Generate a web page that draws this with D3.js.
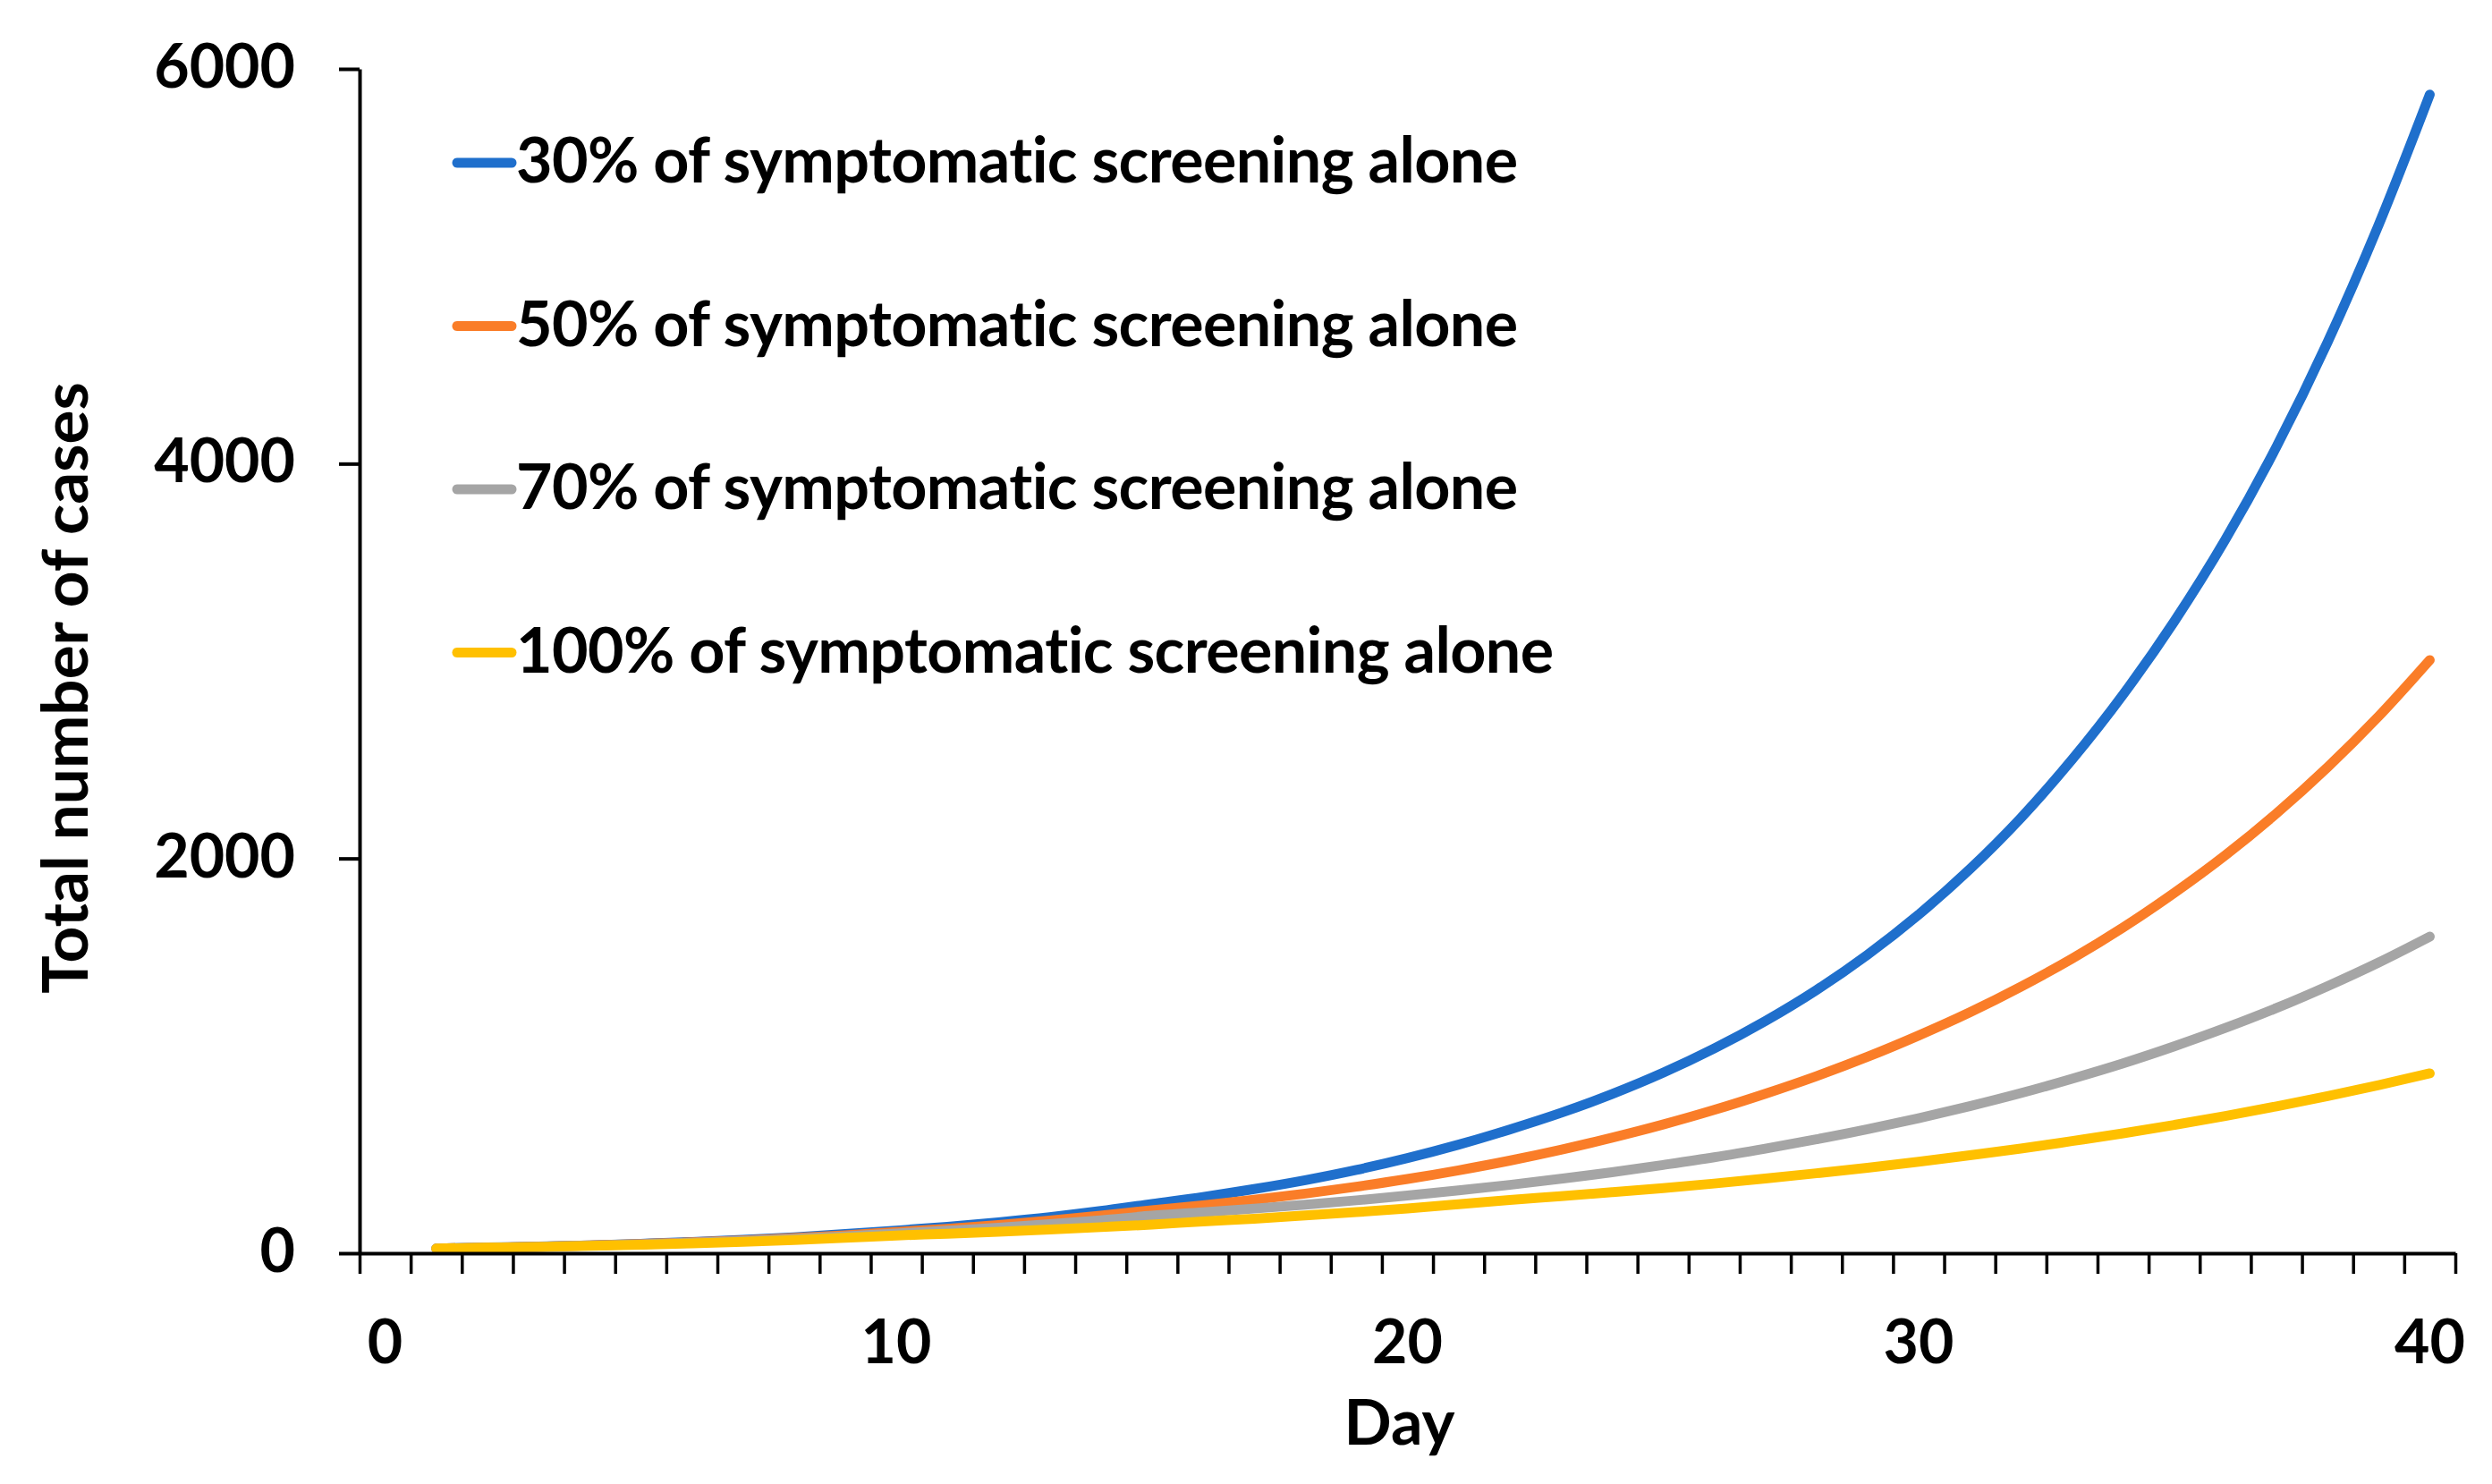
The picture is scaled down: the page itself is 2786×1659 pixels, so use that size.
<!DOCTYPE html>
<html>
<head>
<meta charset="utf-8">
<script src="https://cdn.jsdelivr.net/npm/d3@7"></script>
<style>
  body { margin: 0; background: #fff; }
  text { font-family: Lato, "Open Sans", sans-serif; font-weight: 700; fill: #000; }
</style>
</head>
<body>
<svg id="chart" width="2786" height="1659"></svg>
<script>
const days = d3.range(1, 41);
const xTickLabels = [0, 10, 20, 30, 40];
const yTickValues = [0, 2000, 4000, 6000];

const seriesNames = [
    "30% of symptomatic screening alone",
    "50% of symptomatic screening alone",
    "70% of symptomatic screening alone",
    "100% of symptomatic screening alone"
];
const seriesColours = ["#1F6FCC", "#FA7D28", "#A5A5A5", "#FFC000"];

const cases30 = [24, 29, 34, 40, 48, 57, 68, 81, 97, 115,
    134, 157, 183, 214, 250, 285, 325, 370, 422, 482,
    550, 627, 711, 806, 914, 1037, 1176, 1333, 1512, 1715,
    1945, 2205, 2500, 2830, 3200, 3615, 4085, 4615, 5210, 5870];
const cases50 = [24, 28, 33, 40, 47, 55, 65, 77, 91, 108,
    124, 143, 165, 190, 218, 243, 271, 302, 337, 376,
    420, 469, 524, 585, 652, 726, 808, 897, 995, 1103,
    1220, 1350, 1492, 1650, 1825, 2016, 2228, 2462, 2720, 3005];
const cases70 = [24, 28, 33, 39, 45, 53, 62, 73, 85, 100,
    114, 129, 147, 167, 190, 207, 226, 246, 268, 292,
    318, 346, 377, 410, 447, 486, 530, 577, 628, 684,
    745, 811, 884, 962, 1048, 1141, 1242, 1353, 1473, 1604];
const cases100 = [24, 28, 32, 37, 43, 50, 58, 67, 78, 90,
    99, 109, 120, 132, 145, 161, 175, 191, 208, 227,
    248, 270, 289, 309, 330, 353, 378, 405, 433, 463,
    496, 530, 568, 607, 650, 695, 744, 796, 851, 911];

const allSeries = [cases30, cases50, cases70, cases100];

const svg = d3.select("#chart");

const margin = { top: 77, right: 41, bottom: 258, left: 402 };
const width = 2786 - margin.left - margin.right;
const height = 1659 - margin.top - margin.bottom;

const chartArea = svg.append("g")
    .attr("transform", `translate(${margin.left},${margin.top})`);

// category axis: 41 categories (0..40), ticks between categories
const xScale = d3.scaleLinear()
    .domain([-0.5, 40.5])
    .range([0, width]);
const yScale = d3.scaleLinear()
    .domain([0, 6000])
    .range([height, 0]);

const line = d3.line()
    .x((d, i) => xScale(days[i]))
    .y(d => yScale(d))
    .curve(d3.curveMonotoneX);

chartArea.selectAll(".series")
    .data(allSeries)
    .join("path")
    .attr("class", "series")
    .attr("fill", "none")
    .attr("stroke", (d, i) => seriesColours[i])
    .attr("stroke-width", 11)
    .attr("stroke-linecap", "round")
    .attr("stroke-linejoin", "round")
    .attr("d", line);

// x axis
const xAxis = chartArea.append("g")
    .attr("transform", `translate(0,${height})`)
    .call(d3.axisBottom(xScale)
        .tickValues(d3.range(-0.5, 41, 1))
        .tickSize(23)
        .tickSizeOuter(0)
        .tickFormat(""));
xAxis.select(".domain").attr("stroke", "#000").attr("stroke-width", 4);
xAxis.selectAll(".tick line").attr("stroke", "#000").attr("stroke-width", 3.5);

chartArea.selectAll(".x-label")
    .data(xTickLabels)
    .join("text")
    .attr("class", "x-label")
    .attr("x", d => xScale(d))
    .attr("y", height + 123)
    .attr("text-anchor", "middle")
    .attr("font-size", 68)
    .text(d => d);

// y axis
const yAxis = chartArea.append("g")
    .call(d3.axisLeft(yScale)
        .tickValues(yTickValues)
        .tickFormat(d3.format("d"))
        .tickSize(23)
        .tickSizeOuter(0)
        .tickPadding(49));
yAxis.select(".domain").attr("stroke", "#000").attr("stroke-width", 4);
yAxis.selectAll(".tick line").attr("stroke", "#000").attr("stroke-width", 4);
yAxis.selectAll(".tick text")
    .attr("font-size", 68)
    .attr("font-family", "Lato, 'Open Sans', sans-serif")
    .attr("font-weight", 700)
    .attr("fill", "#000")
    .attr("dy", "0.3em");

// axis titles
chartArea.append("text")
    .attr("x", width / 2 - 9)
    .attr("y", height + 214)
    .attr("text-anchor", "middle")
    .attr("font-size", 70)
    .text("Day");

svg.append("text")
    .attr("transform", `translate(98, ${margin.top + height / 2 + 30}) rotate(-90)`)
    .attr("text-anchor", "middle")
    .attr("font-size", 71)
    .text("Total number of cases");

// legend
const legend = svg.append("g")
    .attr("transform", "translate(511, 182)");
const legendRows = legend.selectAll(".legend-row")
    .data(seriesNames)
    .join("g")
    .attr("class", "legend-row")
    .attr("transform", (d, i) => `translate(0, ${i * 182.5})`);
legendRows.append("line")
    .attr("x1", 0)
    .attr("x2", 61)
    .attr("stroke", (d, i) => seriesColours[i])
    .attr("stroke-width", 11)
    .attr("stroke-linecap", "round");
legendRows.append("text")
    .attr("x", 66)
    .attr("y", 22)
    .attr("font-size", 70)
    .attr("letter-spacing", -0.6)
    .text(d => d);
</script>
</body>
</html>
